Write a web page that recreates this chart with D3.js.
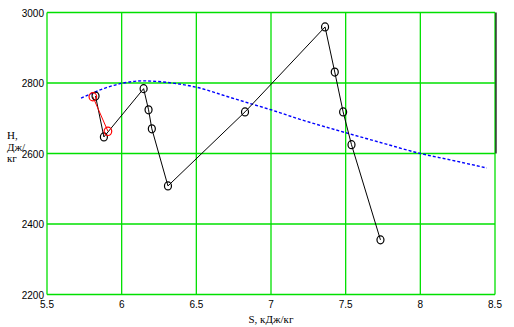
<!DOCTYPE html>
<html>
<head>
<meta charset="utf-8">
<script src="https://cdn.jsdelivr.net/npm/d3@7"></script>
<style>
  body { margin: 0; background: #fff; }
  svg { display: block; }
  .tick-label { font-family: "Liberation Sans", Arial, sans-serif; font-size: 10px; fill: #000; }
  .title { font-family: "Liberation Serif", "Times New Roman", serif; font-size: 11px; fill: #000; }
</style>
</head>
<body>
<div class="graph"></div>
<script>
/*---------- DATA ----------*/

// process points (black)
const processS = [5.825, 5.881, 6.147, 6.180, 6.202, 6.310, 6.826, 7.362, 7.427, 7.483, 7.539, 7.733];
const processH = [2763, 2647, 2784, 2724, 2670, 2508, 2718, 2959, 2831, 2718, 2625, 2355];

// red pair
const redS = [5.807, 5.908];
const redH = [2761, 2663];

// blue dotted curve
const curveS = [5.728, 5.885, 6.000, 6.143, 6.355, 6.500, 6.712, 6.859, 7.000, 7.194, 7.500, 7.752, 8.000, 8.199, 8.445];
const curveH = [2757, 2785, 2799, 2806, 2799, 2788, 2761, 2742, 2724, 2697, 2659, 2629, 2600, 2582, 2559];

const xTicks = [5.5, 6, 6.5, 7, 7.5, 8, 8.5];
const yTicks = [2200, 2400, 2600, 2800, 3000];
const xTitle = "S, кДж/кг";
const yTitle = ["Н,", "Дж/", "кг"];

/*---------- D3 STUFF ----------*/

const SIZE = {X: 514, Y: 327};
const PLOT = {LEFT: 47, RIGHT: 495, TOP: 12.5, BOTTOM: 294.5};

const svg = d3.select(".graph").append("svg")
    .attr("width", SIZE.X)
    .attr("height", SIZE.Y);

var x = d3.scaleLinear().domain([5.5, 8.5]).range([PLOT.LEFT, PLOT.RIGHT]);
var y = d3.scaleLinear().domain([2200, 3000]).range([PLOT.BOTTOM, PLOT.TOP]);

const GREEN = "#00e000";

//grid
const grid = svg.append("g");
grid.selectAll("line.vx")
    .data(xTicks)
    .enter().append("line")
    .attr("x1", d => x(d)).attr("x2", d => x(d))
    .attr("y1", y(3000)).attr("y2", y(2200))
    .attr("stroke", GREEN).attr("stroke-width", 1.3);

grid.selectAll("line.hy")
    .data(yTicks)
    .enter().append("line")
    .attr("x1", x(5.5)).attr("x2", x(8.5))
    .attr("y1", d => y(d)).attr("y2", d => y(d))
    .attr("stroke", GREEN).attr("stroke-width", 1.3);

//black edge on right upper part
svg.append("line")
    .attr("x1", x(8.5) + 1).attr("x2", x(8.5) + 1)
    .attr("y1", y(3000)).attr("y2", y(2600))
    .attr("stroke", "black").attr("stroke-width", 1.2);

//tick labels
svg.selectAll("text.xl")
    .data(xTicks)
    .enter().append("text")
    .attr("class", "tick-label")
    .attr("x", d => x(d))
    .attr("y", 308)
    .attr("text-anchor", "middle")
    .text(d => d);

svg.selectAll("text.yl")
    .data(yTicks)
    .enter().append("text")
    .attr("class", "tick-label")
    .attr("x", 44)
    .attr("y", d => y(d) + 4)
    .attr("text-anchor", "end")
    .text(d => d);

//titles
svg.append("text")
    .attr("class", "title")
    .attr("x", 271)
    .attr("y", 323)
    .attr("text-anchor", "middle")
    .text(xTitle);

svg.append("g").selectAll("text")
    .data(yTitle)
    .enter().append("text")
    .attr("class", "title")
    .attr("x", 7)
    .attr("y", (d, i) => 139 + i * 11.5)
    .text(d => d);

//line generator
const line = d3.line()
    .x(d => x(d[0]))
    .y(d => y(d[1]));

const curve = d3.zip(curveS, curveH);
const process = d3.zip(processS, processH);
const red = d3.zip(redS, redH);

svg.append("path")
    .datum(curve)
    .attr("fill", "none")
    .attr("stroke", "#0000ff")
    .attr("stroke-width", 1.4)
    .attr("stroke-dasharray", "3,2")
    .attr("d", line.curve(d3.curveMonotoneX));

line.curve(d3.curveLinear);

svg.append("path")
    .datum(process)
    .attr("fill", "none")
    .attr("stroke", "black")
    .attr("stroke-width", 1)
    .attr("d", line);

svg.append("path")
    .datum(red)
    .attr("fill", "none")
    .attr("stroke", "#ff0000")
    .attr("stroke-width", 1)
    .attr("d", line);

svg.selectAll("ellipse.p")
    .data(process)
    .enter().append("ellipse")
    .attr("cx", d => x(d[0]))
    .attr("cy", d => y(d[1]))
    .attr("rx", 3.5)
    .attr("ry", 4)
    .attr("fill", "none")
    .attr("stroke", "black")
    .attr("stroke-width", 1.2);

svg.selectAll("ellipse.r")
    .data(red)
    .enter().append("ellipse")
    .attr("cx", d => x(d[0]))
    .attr("cy", d => y(d[1]))
    .attr("rx", 3.8)
    .attr("ry", 4.2)
    .attr("fill", "none")
    .attr("stroke", "#ff0000")
    .attr("stroke-width", 1.2);
</script>
</body>
</html>
